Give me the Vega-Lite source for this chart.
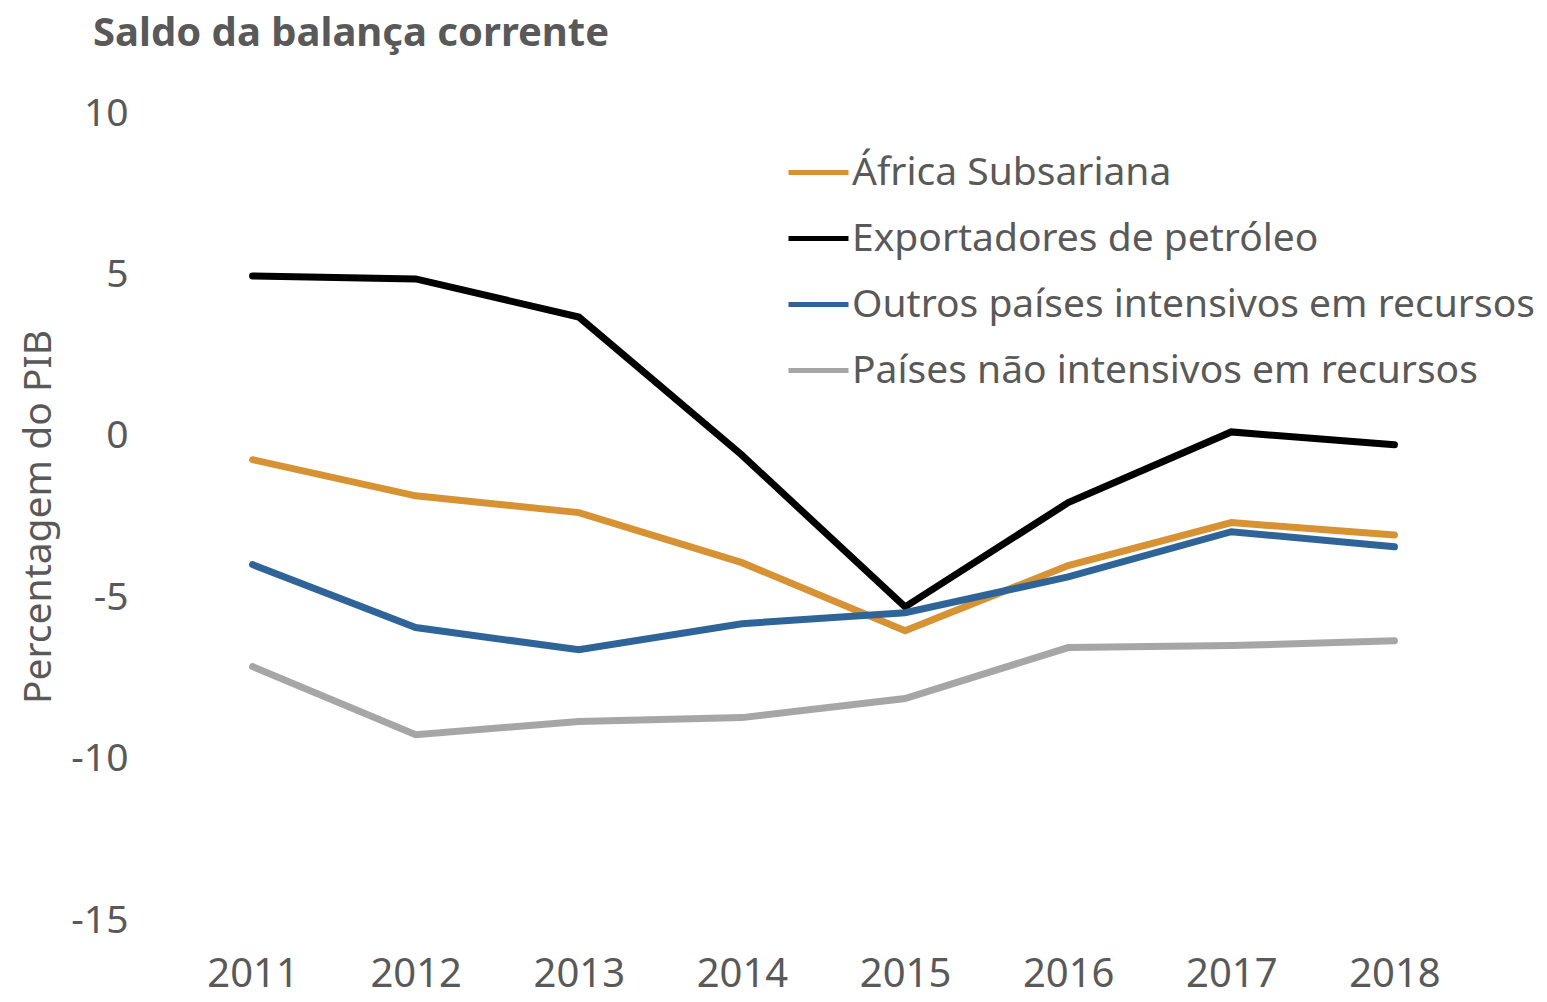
{
  "$schema": "https://vega.github.io/schema/vega-lite/v6.json",
  "width": 1305,
  "height": 807,
  "autosize": {"type": "none"},
  "padding": {"left": 171, "top": 113, "right": 71, "bottom": 82},
  "background": "white",
  "config": {
    "font": "Noto Sans",
    "view": {"stroke": null}
  },
  "title": {
    "text": "Saldo da balança corrente",
    "anchor": "start",
    "frame": "group",
    "dx": -78,
    "offset": 40,
    "fontSize": 40,
    "fontWeight": "bold",
    "color": "#595959",
    "font": "Noto Sans"
  },
  "data": {
    "values": [
      {"ano": "2011", "serie": "África Subsariana", "valor": -0.74},
      {"ano": "2012", "serie": "África Subsariana", "valor": -1.86},
      {"ano": "2013", "serie": "África Subsariana", "valor": -2.38},
      {"ano": "2014", "serie": "África Subsariana", "valor": -3.93},
      {"ano": "2015", "serie": "África Subsariana", "valor": -6.04},
      {"ano": "2016", "serie": "África Subsariana", "valor": -4.02},
      {"ano": "2017", "serie": "África Subsariana", "valor": -2.69},
      {"ano": "2018", "serie": "África Subsariana", "valor": -3.07},
      {"ano": "2011", "serie": "Exportadores de petróleo", "valor": 4.95},
      {"ano": "2012", "serie": "Exportadores de petróleo", "valor": 4.86},
      {"ano": "2013", "serie": "Exportadores de petróleo", "valor": 3.68},
      {"ano": "2014", "serie": "Exportadores de petróleo", "valor": -0.6},
      {"ano": "2015", "serie": "Exportadores de petróleo", "valor": -5.3},
      {"ano": "2016", "serie": "Exportadores de petróleo", "valor": -2.07},
      {"ano": "2017", "serie": "Exportadores de petróleo", "valor": 0.12},
      {"ano": "2018", "serie": "Exportadores de petróleo", "valor": -0.28},
      {"ano": "2011", "serie": "Outros países intensivos em recursos", "valor": -3.99},
      {"ano": "2012", "serie": "Outros países intensivos em recursos", "valor": -5.94},
      {"ano": "2013", "serie": "Outros países intensivos em recursos", "valor": -6.63},
      {"ano": "2014", "serie": "Outros países intensivos em recursos", "valor": -5.82},
      {"ano": "2015", "serie": "Outros países intensivos em recursos", "valor": -5.48},
      {"ano": "2016", "serie": "Outros países intensivos em recursos", "valor": -4.37},
      {"ano": "2017", "serie": "Outros países intensivos em recursos", "valor": -2.97},
      {"ano": "2018", "serie": "Outros países intensivos em recursos", "valor": -3.44},
      {"ano": "2011", "serie": "Países não intensivos em recursos", "valor": -7.15},
      {"ano": "2012", "serie": "Países não intensivos em recursos", "valor": -9.26},
      {"ano": "2013", "serie": "Países não intensivos em recursos", "valor": -8.85},
      {"ano": "2014", "serie": "Países não intensivos em recursos", "valor": -8.73},
      {"ano": "2015", "serie": "Países não intensivos em recursos", "valor": -8.14},
      {"ano": "2016", "serie": "Países não intensivos em recursos", "valor": -6.56},
      {"ano": "2017", "serie": "Países não intensivos em recursos", "valor": -6.5},
      {"ano": "2018", "serie": "Países não intensivos em recursos", "valor": -6.35}
    ]
  },
  "mark": {"type": "line", "strokeWidth": 7, "strokeCap": "round", "strokeJoin": "miter"},
  "encoding": {
    "x": {
      "field": "ano",
      "type": "ordinal",
      "scale": {"type": "point", "padding": 0.5},
      "axis": {
        "title": null,
        "labelAngle": 0,
        "labelFontSize": 40,
        "labelColor": "#595959",
        "labelPadding": 34,
        "domain": false,
        "ticks": false,
        "grid": false
      }
    },
    "y": {
      "field": "valor",
      "type": "quantitative",
      "scale": {"domain": [-15, 10], "nice": false, "zero": false},
      "axis": {
        "title": "Percentagem do PIB",
        "titleFontSize": 39,
        "titleFontWeight": "normal",
        "titleColor": "#595959",
        "titlePadding": 12,
        "values": [-15, -10, -5, 0, 5, 10],
        "labelExpr": "'' + datum.value",
        "labelFontSize": 39,
        "labelColor": "#595959",
        "labelPadding": 43,
        "domain": false,
        "ticks": false,
        "grid": false
      }
    },
    "color": {
      "field": "serie",
      "type": "nominal",
      "scale": {
        "domain": ["África Subsariana", "Exportadores de petróleo", "Outros países intensivos em recursos", "Países não intensivos em recursos"],
        "range": ["#D69233", "#000000", "#2F6499", "#A6A6A6"]
      },
      "legend": {
        "title": null,
        "orient": "none",
        "legendX": 615,
        "legendY": 27,
        "symbolType": "stroke",
        "symbolSize": 3600,
        "symbolStrokeWidth": 5,
        "labelFontSize": 39,
        "labelColor": "#595959",
        "labelOffset": 1,
        "labelLimit": 1000,
        "rowPadding": 13
      }
    }
  }
}
